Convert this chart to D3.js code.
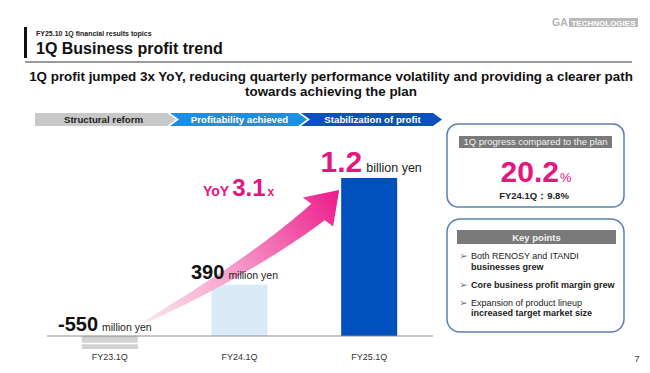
<!DOCTYPE html>
<html>
<head>
<meta charset="utf-8">
<script src="https://cdn.jsdelivr.net/npm/d3@7"></script>
<style>
  body { margin: 0; background: #fff; }
  svg { display: block; font-family: "Liberation Sans", Arial, sans-serif; }
</style>
</head>
<body>
<div id="chart"></div>
<script>
// Business profit by first quarter (million yen)
const categories = ['FY23.1Q', 'FY24.1Q', 'FY25.1Q'];
const profitValues = [-550, 390, 1200];
const valueLabels = ['-550', '390', '1.2'];
const unitLabels = ['million yen', 'million yen', 'billion yen'];

// Phase ribbon above the bars
const phaseLabels = ['Structural reform', 'Profitability achieved', 'Stabilization of profit'];
const phaseColors = ['#c8c8c8', '#1b8fe3', '#0b50c0'];

// Side panels
const progressValue = '20.2';
const progressPrev = 'FY24.1Q\uFF1A9.8%';
const yoyValue = '3.1';
const keyPoints = [
    [{ text: 'Both RENOSY and ITANDI', bold: false }, { text: 'businesses grew', bold: true }],
    [{ text: 'Core business profit margin grew', bold: true }],
    [{ text: 'Expansion of product lineup', bold: false }, { text: 'increased target market size', bold: true }]
];

const width = 650, height = 373;
const magenta = '#e6157f';

const svg = d3.select('#chart')
    .append('svg')
    .attr('width', width)
    .attr('height', height);

// ---- Header ----
svg.append('rect')
    .attr('x', 24).attr('y', 27)
    .attr('width', 3).attr('height', 31)
    .attr('fill', '#111');

svg.append('text')
    .attr('x', 36).attr('y', 36)
    .style('font-size', '7px')
    .style('font-weight', 'bold')
    .style('fill', '#222')
    .text('FY25.10 1Q financial results topics');

svg.append('text')
    .attr('x', 36).attr('y', 54)
    .style('font-size', '16px')
    .style('font-weight', 'bold')
    .style('fill', '#111')
    .text('1Q Business profit trend');

svg.append('line')
    .attr('x1', 25).attr('x2', 632)
    .attr('y1', 62).attr('y2', 62)
    .attr('stroke', '#9a9a9a')
    .attr('stroke-width', 2);

// Company logo
const logo = svg.append('g').attr('transform', 'translate(552, 26)');
logo.append('text')
    .attr('x', 0).attr('y', 0)
    .style('font-size', '10.5px')
    .style('font-weight', 'bold')
    .style('fill', '#b4b4b4')
    .text('GA');
logo.append('rect')
    .attr('x', 17).attr('y', -8)
    .attr('width', 69).attr('height', 9)
    .attr('fill', '#b9b9b9');
logo.append('text')
    .attr('x', 51.5).attr('y', -0.5)
    .attr('text-anchor', 'middle')
    .style('font-size', '8px')
    .style('font-weight', 'bold')
    .style('fill', '#fff')
    .text('TECHNOLOGIES');

// Message
const message = [
    '1Q profit jumped 3x YoY, reducing quarterly performance volatility and providing a clearer path',
    'towards achieving the plan'
];
message.forEach((m, i) => {
    svg.append('text')
        .attr('x', 331).attr('y', 81 + i * 15)
        .attr('text-anchor', 'middle')
        .style('font-size', '13.4px')
        .style('font-weight', 'bold')
        .style('fill', '#111')
        .text(m);
});

// ---- Phase ribbon (chevrons) ----
const phaseEdges = [35, 176, 307, 442];
const ribTop = 113, ribBot = 126, ribMid = (ribTop + ribBot) / 2;
const tipDepth = 9, gap = 3;

phaseLabels.forEach((label, i) => {
    const x0 = phaseEdges[i], x1 = phaseEdges[i + 1];
    const pts = i === 0
        ? [[x0, ribTop], [x1 - tipDepth, ribTop], [x1, ribMid], [x1 - tipDepth, ribBot], [x0, ribBot]]
        : [[x0 - tipDepth + gap, ribTop], [x1 - tipDepth, ribTop], [x1, ribMid],
           [x1 - tipDepth, ribBot], [x0 - tipDepth + gap, ribBot], [x0 + gap, ribMid]];
    svg.append('path')
        .attr('d', d3.line()(pts) + 'Z')
        .attr('fill', phaseColors[i]);
    svg.append('text')
        .attr('x', (x0 + x1) / 2 - 2)
        .attr('y', ribMid + 3.5)
        .attr('text-anchor', 'middle')
        .style('font-size', '9.7px')
        .style('font-weight', 'bold')
        .style('fill', i === 0 ? '#222' : '#fff')
        .text(label);
});

// ---- Bar chart ----
const x = d3.scalePoint()
    .domain(categories)
    .range([45, 434])
    .padding(0.5);

const y = d3.scaleLinear()
    .domain([0, 1200])
    .range([336, 178]);

const barWidth = 56;
const negDepth = 13; // negative bar is drawn truncated (broken axis)

// Gradient for the growth arrow
const defs = svg.append('defs');
const tail = [x(categories[0]) + barWidth / 2 + 5, y(0) - negDepth];
const tip = [x(categories[2]) - barWidth / 2 - 2, y(profitValues[2]) + 12];
const grad = defs.append('linearGradient')
    .attr('id', 'arrowGrad')
    .attr('gradientUnits', 'userSpaceOnUse')
    .attr('x1', tail[0]).attr('y1', tail[1])
    .attr('x2', tip[0]).attr('y2', tip[1]);
grad.append('stop').attr('offset', '0%').attr('stop-color', '#fde6f1');
grad.append('stop').attr('offset', '40%').attr('stop-color', '#f7a6ce');
grad.append('stop').attr('offset', '100%').attr('stop-color', '#ec1a8a');

// Bars
profitValues.forEach((v, i) => {
    const cx = x(categories[i]);
    if (v >= 0) {
        svg.append('rect')
            .attr('x', cx - barWidth / 2)
            .attr('y', y(v))
            .attr('width', barWidth)
            .attr('height', y(0) - y(v))
            .attr('fill', i === profitValues.length - 1 ? '#0050c0' : '#dbeaf7');
    } else {
        const depth = Math.min(y(v) - y(0), negDepth);
        svg.append('rect')
            .attr('x', cx - barWidth / 2)
            .attr('y', y(0))
            .attr('width', barWidth)
            .attr('height', depth)
            .attr('fill', '#d3d3d3');
        // break mark
        svg.append('line')
            .attr('x1', cx - barWidth / 2 - 1).attr('x2', cx + barWidth / 2 + 1)
            .attr('y1', y(0) + 7.5).attr('y2', y(0) + 7.5)
            .attr('stroke', '#fff')
            .attr('stroke-width', 1.5);
    }
});

// Baseline
svg.append('line')
    .attr('x1', 47).attr('x2', 433)
    .attr('y1', y(0)).attr('y2', y(0))
    .attr('stroke', '#8a8a8a')
    .attr('stroke-width', 1);

// Category labels
svg.selectAll('.cat-label')
    .data(categories)
    .enter()
    .append('text')
    .attr('class', 'cat-label')
    .attr('x', d => x(d))
    .attr('y', 360)
    .attr('text-anchor', 'middle')
    .style('font-size', '9px')
    .style('fill', '#333')
    .text(d => d);

// Growth arrow: tapered quadratic curve plus head
const ctrl = [252, 266];
const neck = [318, 212];
const bez = t => [
    (1 - t) * (1 - t) * tail[0] + 2 * (1 - t) * t * ctrl[0] + t * t * neck[0],
    (1 - t) * (1 - t) * tail[1] + 2 * (1 - t) * t * ctrl[1] + t * t * neck[1]
];
const n = 40;
const upper = [], lower = [];
for (let k = 0; k <= n; k++) {
    const t = k / n;
    const p = bez(t);
    const q = bez(Math.min(1, t + 0.01));
    const r = bez(Math.max(0, t - 0.01));
    const dx = q[0] - r[0], dy = q[1] - r[1];
    const len = Math.hypot(dx, dy);
    const nx = -dy / len, ny = dx / len;
    const hw = 0.6 + 10 * Math.pow(t, 0.7);
    upper.push([p[0] + nx * hw, p[1] + ny * hw]);
    lower.push([p[0] - nx * hw, p[1] - ny * hw]);
}
// head
const hdx = tip[0] - neck[0], hdy = tip[1] - neck[1];
const hlen = Math.hypot(hdx, hdy);
const hnx = -hdy / hlen, hny = hdx / hlen;
const headHalf = 21;
const arrowPts = upper
    .concat([[neck[0] + hnx * headHalf, neck[1] + hny * headHalf], tip,
             [neck[0] - hnx * headHalf, neck[1] - hny * headHalf]])
    .concat(lower.reverse());
svg.append('path')
    .attr('d', d3.line()(arrowPts) + 'Z')
    .attr('fill', 'url(#arrowGrad)');

// Value labels
profitValues.forEach((v, i) => {
    const isLast = i === profitValues.length - 1;
    const labelY = v >= 0 ? y(v) - 6 : y(0) - 5;
    const t = svg.append('text')
        .attr('x', x(categories[i]) + (isLast ? 2 : -5))
        .attr('y', labelY)
        .attr('text-anchor', 'middle');
    t.append('tspan')
        .style('font-size', isLast ? '30px' : '20px')
        .style('font-weight', 'bold')
        .style('fill', isLast ? magenta : '#111')
        .text(valueLabels[i]);
    t.append('tspan')
        .attr('dx', 4)
        .style('font-size', isLast ? '12.5px' : '10.5px')
        .style('fill', '#222')
        .text(unitLabels[i]);
});

// YoY annotation
const yoy = svg.append('text')
    .attr('x', 203).attr('y', 196)
    .style('font-weight', 'bold')
    .style('fill', magenta);
yoy.append('tspan').style('font-size', '14px').text('YoY');
yoy.append('tspan').attr('dx', 3).style('font-size', '24px').text(yoyValue);
yoy.append('tspan').attr('dx', 2).style('font-size', '12px').text('x');

// ---- Right panels ----
const boxX = 447, boxW = 177;
const panelStroke = '#5a80b2';

// Progress panel
svg.append('rect')
    .attr('x', boxX).attr('y', 124)
    .attr('width', boxW).attr('height', 83)
    .attr('rx', 11)
    .attr('fill', '#fff')
    .attr('stroke', panelStroke)
    .attr('stroke-width', 1.5);
svg.append('rect')
    .attr('x', 459).attr('y', 136)
    .attr('width', 153).attr('height', 12)
    .attr('fill', '#7a7a7a');
svg.append('text')
    .attr('x', 535.5).attr('y', 145)
    .attr('text-anchor', 'middle')
    .style('font-size', '9.5px')
    .style('fill', '#f2f2f2')
    .text('1Q progress compared to the plan');
const prog = svg.append('text')
    .attr('x', 536).attr('y', 182)
    .attr('text-anchor', 'middle')
    .style('font-weight', 'bold')
    .style('fill', magenta);
prog.append('tspan')
    .style('font-size', '30px')
    .text(progressValue);
prog.append('tspan')
    .attr('dx', 1)
    .style('font-size', '13px')
    .style('font-weight', 'normal')
    .text('%');
svg.append('text')
    .attr('x', 534).attr('y', 199)
    .attr('text-anchor', 'middle')
    .style('font-size', '9.5px')
    .style('font-weight', 'bold')
    .style('fill', '#222')
    .text(progressPrev);

// Key points panel
svg.append('rect')
    .attr('x', boxX).attr('y', 219)
    .attr('width', boxW).attr('height', 113)
    .attr('rx', 13)
    .attr('fill', '#fff')
    .attr('stroke', panelStroke)
    .attr('stroke-width', 1.5);
svg.append('rect')
    .attr('x', 457).attr('y', 230)
    .attr('width', 159).attr('height', 14)
    .attr('fill', '#7a7a7a');
svg.append('text')
    .attr('x', 536.5).attr('y', 240.5)
    .attr('text-anchor', 'middle')
    .style('font-size', '9.5px')
    .style('font-weight', 'bold')
    .style('fill', '#f2f2f2')
    .text('Key points');

let lineY = 259;
keyPoints.forEach(point => {
    svg.append('text')
        .attr('x', 459.5).attr('y', lineY)
        .style('font-family', '"DejaVu Sans", sans-serif')
        .style('font-size', '9.5px')
        .style('fill', '#4d6a92')
        .text('\u27A2');
    point.forEach((ln, j) => {
        svg.append('text')
            .attr('x', 471).attr('y', lineY + j * 10.5)
            .style('font-size', '9px')
            .style('font-weight', ln.bold ? 'bold' : 'normal')
            .style('fill', '#222')
            .text(ln.text);
    });
    lineY += point.length * 10.5 + 7.5;
});

// Page number
svg.append('text')
    .attr('x', 637).attr('y', 362)
    .attr('text-anchor', 'middle')
    .style('font-size', '9px')
    .style('fill', '#333')
    .text('7');
</script>
</body>
</html>
